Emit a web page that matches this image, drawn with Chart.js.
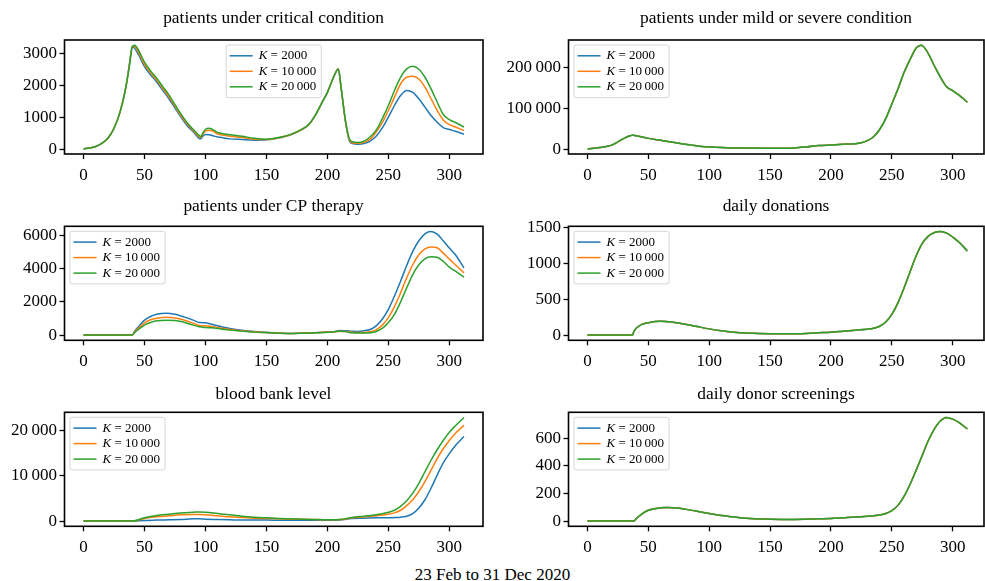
<!DOCTYPE html>
<html>
<head>
<meta charset="utf-8">
<script src="https://cdn.jsdelivr.net/npm/chart.js@4.4.1/dist/chart.umd.min.js"></script>
<style>
  html, body { margin: 0; padding: 0; background: #fff; width: 985px; height: 581px; overflow: hidden; position: relative; }
  canvas { position: absolute; }
  #xlabel { position: absolute; left: 0; width: 985px; top: 565px; line-height: 20px; text-align: center;
            font: 17px "Liberation Serif", "Times New Roman", serif; color: #000; }
</style>
</head>
<body>
<div id="xlabel">23 Feb to 31 Dec 2020</div>
<script>
// Series: one line per donor pool size K
const kValues = [2000, 10000, 20000];
const lineColors = ['#1f77b4', '#ff7f0e', '#2ca02c'];
const xTicks = [0, 50, 100, 150, 200, 250, 300];

// patients under critical condition
const critDays = [0, 5, 10, 15, 20, 25, 30, 35, 38, 40, 42, 45, 50, 55, 60, 65, 70, 75, 80, 85, 90, 95, 96, 98, 100, 103, 106, 110, 115, 120, 130, 140, 150, 160, 170, 180, 185, 190, 195, 200, 205, 208, 209, 211, 213, 215, 218, 220, 225, 230, 235, 240, 245, 250, 255, 260, 265, 270, 275, 280, 285, 290, 295, 300, 305, 312];
const critK2000 = [20, 45, 90, 190, 350, 660, 1170, 2000, 2760, 3220, 3150, 2960, 2580, 2330, 2100, 1840, 1580, 1290, 1000, 740, 550, 340, 330, 420, 470, 460, 430, 390, 360, 330, 310, 290, 300, 360, 460, 640, 780, 1060, 1420, 1780, 2250, 2480, 2500, 2000, 1390, 820, 270, 190, 165, 185, 260, 410, 670, 1010, 1370, 1680, 1840, 1780, 1580, 1320, 1060, 850, 680, 620, 565, 475];
const critK10000 = [20, 45, 90, 190, 350, 660, 1170, 2000, 2730, 3210, 3210, 3030, 2650, 2390, 2160, 1900, 1640, 1350, 1050, 790, 590, 390, 370, 480, 570, 600, 570, 480, 440, 410, 370, 320, 310, 365, 465, 645, 785, 1060, 1420, 1780, 2250, 2480, 2505, 2000, 1395, 835, 300, 215, 190, 220, 320, 545, 835, 1215, 1630, 2040, 2250, 2280, 2195, 1940, 1580, 1215, 920, 775, 700, 590];
const critK20000 = [20, 45, 90, 190, 350, 660, 1170, 2000, 2700, 3200, 3250, 3100, 2720, 2450, 2220, 1960, 1700, 1400, 1100, 830, 620, 430, 400, 520, 630, 660, 620, 530, 490, 460, 410, 350, 320, 370, 470, 650, 790, 1060, 1420, 1780, 2250, 2480, 2510, 2000, 1400, 850, 330, 250, 215, 260, 390, 600, 960, 1370, 1840, 2250, 2510, 2590, 2500, 2250, 1890, 1480, 1090, 930, 840, 700];

// patients under mild or severe condition (the three runs coincide)
const mildDays = [0, 10, 20, 25, 30, 35, 37, 40, 50, 60, 70, 80, 90, 100, 110, 120, 150, 170, 180, 190, 200, 210, 220, 225, 230, 235, 240, 245, 250, 255, 260, 265, 270, 274, 278, 285, 290, 295, 300, 305, 312];
const mildAll = [1000, 4000, 10000, 18000, 26500, 33000, 34500, 33000, 26600, 21800, 17000, 12100, 8000, 5600, 4000, 3200, 2400, 3200, 5600, 8900, 10500, 12100, 13700, 16000, 21000, 30600, 48400, 75000, 111000, 147600, 188000, 220000, 248000, 255000, 244000, 204000, 176000, 153000, 143500, 133000, 115000];

// patients under CP therapy
const cpDays = [0, 40, 42, 45, 50, 55, 60, 68, 75, 80, 90, 95, 100, 105, 110, 120, 130, 140, 150, 160, 170, 180, 190, 200, 205, 210, 215, 220, 225, 230, 235, 240, 245, 250, 255, 260, 265, 270, 275, 280, 285, 290, 295, 300, 305, 312];
const cpK2000 = [0, 0, 250, 500, 900, 1120, 1250, 1310, 1250, 1150, 900, 755, 740, 655, 560, 400, 300, 220, 160, 120, 100, 120, 140, 180, 200, 280, 260, 240, 220, 260, 340, 560, 955, 1550, 2350, 3240, 4180, 5030, 5670, 6090, 6230, 6070, 5670, 5230, 4830, 4040];
const cpK10000 = [0, 0, 200, 420, 740, 920, 1015, 1075, 1035, 955, 715, 580, 560, 520, 460, 340, 260, 200, 150, 120, 100, 120, 140, 180, 200, 240, 220, 180, 160, 160, 200, 320, 600, 1055, 1710, 2540, 3440, 4230, 4830, 5190, 5300, 5250, 4930, 4570, 4230, 3740];
const cpK20000 = [0, 0, 160, 340, 600, 760, 860, 895, 875, 815, 600, 500, 460, 440, 400, 300, 240, 180, 150, 115, 100, 115, 135, 170, 190, 240, 210, 140, 120, 120, 140, 220, 400, 755, 1250, 1990, 2840, 3640, 4230, 4590, 4710, 4680, 4430, 4090, 3840, 3480];

// daily donations
const donDays = [0, 37, 38, 40, 45, 50, 60, 70, 80, 90, 100, 110, 120, 130, 150, 170, 180, 190, 200, 210, 220, 230, 235, 240, 245, 250, 255, 260, 265, 270, 275, 280, 285, 290, 295, 300, 305, 312];
const donAll = [0, 0, 46, 96, 151, 174, 193, 179, 151, 119, 87, 60, 41, 28, 18, 18, 23, 32, 41, 55, 69, 83, 96, 124, 183, 289, 450, 656, 885, 1106, 1280, 1381, 1431, 1445, 1422, 1367, 1298, 1174];

// blood bank level
const bankDays = [0, 40, 50, 60, 70, 80, 90, 95, 100, 110, 120, 130, 140, 150, 160, 170, 180, 190, 200, 210, 220, 230, 240, 250, 255, 260, 265, 270, 275, 280, 285, 290, 295, 300, 305, 312];
const bankK2000 = [0, 0, 145, 220, 290, 360, 500, 500, 430, 360, 290, 220, 220, 220, 210, 200, 200, 190, 190, 220, 580, 650, 720, 720, 800, 870, 1090, 1670, 2900, 4710, 7250, 10140, 12830, 14860, 16670, 18620];
const bankK10000 = [0, 0, 580, 940, 1160, 1380, 1450, 1450, 1380, 1160, 940, 800, 650, 580, 510, 430, 400, 350, 280, 330, 720, 940, 1160, 1520, 1810, 2390, 3410, 4710, 6520, 8700, 11230, 13770, 15940, 17750, 19350, 21090];
const bankK20000 = [0, 0, 720, 1230, 1520, 1810, 1960, 2030, 1960, 1670, 1380, 1090, 870, 720, 580, 510, 430, 360, 290, 360, 800, 1090, 1380, 1960, 2390, 3260, 4490, 6160, 8330, 10870, 13410, 15720, 17750, 19570, 21010, 22830];

// daily donor screenings
const scrDays = [0, 38, 40, 45, 50, 55, 65, 75, 90, 100, 110, 120, 130, 150, 170, 190, 200, 210, 220, 230, 240, 245, 250, 255, 260, 265, 270, 275, 280, 285, 290, 295, 300, 305, 312];
const scrAll = [0, 0, 17, 55, 79, 90, 98, 93, 71, 55, 40, 31, 21, 14, 12, 17, 19, 24, 29, 36, 45, 55, 76, 114, 179, 267, 369, 476, 583, 667, 726, 750, 738, 714, 667];

const panels = [
  { title: 'patients under critical condition', row: 0, col: 0, days: critDays, series: [critK2000, critK10000, critK20000], yTicks: [0, 1000, 2000, 3000], legend: 'center' },
  { title: 'patients under mild or severe condition', row: 0, col: 1, days: mildDays, series: [mildAll, mildAll, mildAll], yTicks: [0, 100000, 200000], legend: 'left' },
  { title: 'patients under CP therapy', row: 1, col: 0, days: cpDays, series: [cpK2000, cpK10000, cpK20000], yTicks: [0, 2000, 4000, 6000], legend: 'left' },
  { title: 'daily donations', row: 1, col: 1, days: donDays, series: [donAll, donAll, donAll], yTicks: [0, 500, 1000, 1500], legend: 'left' },
  { title: 'blood bank level', row: 2, col: 0, days: bankDays, series: [bankK2000, bankK10000, bankK20000], yTicks: [0, 10000, 20000], legend: 'left' },
  { title: 'daily donor screenings', row: 2, col: 1, days: scrDays, series: [scrAll, scrAll, scrAll], yTicks: [0, 200, 400, 600], legend: 'left' }
];

const FONT = '"Liberation Serif", "Times New Roman", serif';

// 4-digit numbers stay plain, larger ones get a thin space every 3 digits
function fmt(v) {
  const s = String(Math.round(Math.abs(v)));
  const out = s.length > 4 ? s.replace(/\B(?=(\d{3})+(?!\d))/g, '\u2009') : s;
  return (v < 0 ? '\u2212' : '') + out;
}

// matplotlib-like legend drawn inside the axes
const kLegend = {
  id: 'kLegend',
  afterDatasetsDraw(chart, args, opts) {
    const ctx = chart.ctx, a = chart.chartArea;
    const regular = '13px ' + FONT, italic = 'italic 13px ' + FONT;
    ctx.save();
    const items = chart.data.datasets.map(ds => {
      const head = ds.label.split(' ')[0];
      const rest = ds.label.slice(head.length);
      ctx.font = italic; const wh = ctx.measureText(head).width;
      ctx.font = regular; const wr = ctx.measureText(rest).width;
      return { head, rest, wh, w: wh + wr, color: ds.borderColor };
    });
    const textX = 32.5, rowH = 15.5, firstRow = 10.8;
    const boxW = textX + Math.max(...items.map(i => i.w)) + 5;
    const boxH = firstRow * 2 + rowH * (items.length - 1);
    const x0 = opts.position === 'center' ? (a.left + a.right) / 2 - boxW / 2 : a.left + 5.5;
    const y0 = a.top + 5;
    ctx.beginPath();
    ctx.roundRect(x0, y0, boxW, boxH, 2);
    ctx.fillStyle = 'rgba(255,255,255,0.8)';
    ctx.fill();
    ctx.strokeStyle = 'rgba(204,204,204,0.8)';
    ctx.lineWidth = 1;
    ctx.stroke();
    ctx.textBaseline = 'middle';
    ctx.textAlign = 'left';
    items.forEach((it, i) => {
      const y = y0 + firstRow + i * rowH;
      ctx.beginPath();
      ctx.moveTo(x0 + 3.5, y);
      ctx.lineTo(x0 + 26.5, y);
      ctx.strokeStyle = it.color;
      ctx.lineWidth = 1.5;
      ctx.stroke();
      ctx.fillStyle = '#000';
      ctx.font = italic;
      ctx.fillText(it.head, x0 + textX, y);
      ctx.font = regular;
      ctx.fillText(it.rest, x0 + textX + it.wh, y);
    });
    ctx.restore();
  }
};

// full box round the plot area
const frame = {
  id: 'frame',
  afterDraw(chart) {
    const { ctx, chartArea: a } = chart;
    ctx.save();
    ctx.strokeStyle = '#000';
    ctx.lineWidth = 1.6;
    ctx.strokeRect(a.left, a.top, a.right - a.left, a.bottom - a.top);
    ctx.restore();
  }
};

// layout of the 3 x 2 grid; an empty right axis mirrors the left one so titles centre on the plot box
const colCanvasLeft = [0, 490];
const colAxisWidth = [64.5, 78.5];
const colPlotWidth = [418.5, 415.5];
const colXMax = [327.6, 325.7];
const rowCanvasTop = [0, 186, 372];
const rowPlotTop = [40, 40.3, 40.3];
const rowTitleGap = [11.3, 9, 7];
const plotHeight = 114;
const canvasHeight = 188;

panels.forEach(p => {
  const canvas = document.createElement('canvas');
  const axisW = colAxisWidth[p.col];
  canvas.width = 2 * axisW + colPlotWidth[p.col];
  canvas.height = canvasHeight;
  canvas.style.left = colCanvasLeft[p.col] + 'px';
  canvas.style.top = rowCanvasTop[p.row] + 'px';
  document.body.appendChild(canvas);

  const top = rowPlotTop[p.row];
  const gap = rowTitleGap[p.row];
  const xAxisH = canvasHeight - top - plotHeight;
  const rightW = canvas.width - axisW - colPlotWidth[p.col];

  const all = p.series.flat();
  const lo = Math.min(...all), hi = Math.max(...all);
  const m = 0.05 * (hi - lo);

  new Chart(canvas, {
    type: 'line',
    data: {
      datasets: p.series.map((vals, i) => ({
        label: 'K = ' + fmt(kValues[i]),
        data: p.days.map((d, j) => ({ x: d, y: vals[j] })),
        xAxisID: 'x',
        yAxisID: 'y',
        borderColor: lineColors[i],
        backgroundColor: lineColors[i],
        borderWidth: 1.5,
        pointRadius: 0,
        cubicInterpolationMode: 'monotone',
        fill: false,
        order: 2 - i
      }))
    },
    options: {
      responsive: false,
      animation: false,
      events: [],
      layout: { padding: 0 },
      scales: {
        x: {
          type: 'linear',
          min: -15.6,
          max: colXMax[p.col],
          afterBuildTicks: a => { a.ticks = xTicks.map(v => ({ value: v })); },
          afterFit: a => { a.height = xAxisH; },
          border: { display: false },
          grid: { drawOnChartArea: false, drawTicks: true, tickLength: 5, tickWidth: 1.3, tickColor: '#000' },
          ticks: { color: '#000', font: { family: FONT, size: 17 }, padding: 6.5, maxRotation: 0, autoSkip: false, callback: v => fmt(v) }
        },
        y: {
          type: 'linear',
          position: 'left',
          min: lo - m,
          max: hi + m,
          afterBuildTicks: a => { a.ticks = p.yTicks.map(v => ({ value: v })); },
          afterFit: a => { a.width = axisW; },
          border: { display: false },
          grid: { drawOnChartArea: false, drawTicks: true, tickLength: 5, tickWidth: 1.3, tickColor: '#000' },
          ticks: { color: '#000', font: { family: FONT, size: 17 }, padding: 2.5, autoSkip: false, callback: v => fmt(v) }
        },
        yRight: {
          type: 'linear',
          position: 'right',
          afterFit: a => { a.width = rightW; },
          border: { display: false },
          grid: { display: false },
          ticks: { display: false }
        }
      },
      plugins: {
        legend: { display: false },
        tooltip: { enabled: false },
        title: {
          display: true,
          text: p.title,
          color: '#000',
          font: { family: FONT, size: 17.4, weight: 'normal', lineHeight: 1.2 },
          padding: { top: top - 17.4 * 1.2 - gap, bottom: gap }
        },
        kLegend: { position: p.legend }
      }
    },
    plugins: [kLegend, frame]
  });
});
</script>
</body>
</html>
